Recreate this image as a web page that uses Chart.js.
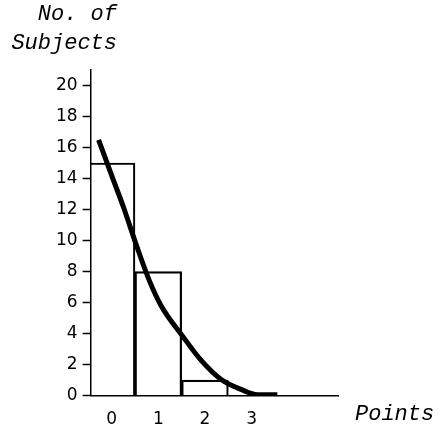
<!DOCTYPE html>
<html>
<head>
<meta charset="utf-8">
<script src="https://cdn.jsdelivr.net/npm/chart.js@4"></script>
<style>
  html, body { margin: 0; padding: 0; background: #fff; }
  #wrap { width: 441px; height: 431px; }
</style>
</head>
<body>
<div id="wrap"><canvas id="grafica"></canvas></div>
<script>
// Histograma: puntos obtenidos y numero de sujetos
const puntos = [0, 1, 2, 3];
const sujetos = [15, 8, 1, 0];
// Curva ajustada
const curvaX = [-0.28, 0, 0.26, 0.53, 0.81, 1.06, 1.53, 1.91, 2.34, 2.77, 3.13, 3.55];
const curvaY = [16.5, 14.2, 12.1, 9.7, 7.4, 5.8, 3.8, 2.3, 1.05, 0.4, 0.05, 0.05];
const ticksY = [0, 2, 4, 6, 8, 10, 12, 14, 16, 18, 20];
const tituloY = ["No. of", "Subjects"];
const tituloX = "Points";

const fuenteTicks = { family: "DejaVu Sans", size: 17 };
const fuenteTitulo = "italic 22px 'Liberation Mono'";

// Dibuja los titulos de los ejes como en la maquina de escribir
const titulos = {
  id: 'titulos',
  afterDraw(chart) {
    const ctx = chart.ctx;
    const area = chart.chartArea;
    ctx.save();
    ctx.fillStyle = '#000';
    ctx.font = fuenteTitulo;
    ctx.textAlign = 'right';
    ctx.textBaseline = 'middle';
    ctx.fillText(tituloY[0], 117, 14);
    ctx.fillText(tituloY[1], 117, 43);
    ctx.textAlign = 'left';
    ctx.fillText(tituloX, area.right + 17, area.bottom + 19);
    ctx.restore();
  }
};

new Chart(document.querySelector("#grafica"), {
  data: {
    datasets: [
      {
        type: 'line',
        data: curvaX.map((x, i) => ({ x: x, y: curvaY[i] })),
        borderColor: '#000',
        borderWidth: 5,
        pointRadius: 0,
        cubicInterpolationMode: 'monotone',
        order: 0,
      },
      {
        type: 'bar',
        data: puntos.map((p, i) => ({ x: p, y: sujetos[i] })),
        backgroundColor: 'rgba(0,0,0,0)',
        borderColor: '#000',
        borderWidth: 1.5,
        barPercentage: 1,
        categoryPercentage: 1,
        order: 1,
      }
    ]
  },
  options: {
    responsive: true,
    maintainAspectRatio: false,
    animation: false,
    layout: { padding: { top: 70, right: 103, left: 51, bottom: -13 } },
    plugins: { legend: { display: false }, tooltip: { enabled: false } },
    scales: {
      x: {
        type: 'linear',
        offset: false,
        min: -0.45,
        max: 4.85,
        afterBuildTicks: (axis) => { axis.ticks = puntos.map(v => ({ value: v })); },
        grid: { offset: false, drawOnChartArea: false, drawTicks: false },
        border: { color: '#000', width: 1.5 },
        ticks: { color: '#000', font: fuenteTicks, padding: 14, maxRotation: 0 },
      },
      y: {
        min: 0,
        max: 21,
        afterBuildTicks: (axis) => { axis.ticks = ticksY.map(v => ({ value: v })); },
        grid: { drawOnChartArea: false, drawTicks: true, tickLength: 8, color: '#000', tickWidth: 1.5 },
        border: { color: '#000', width: 1.5 },
        ticks: { color: '#000', font: fuenteTicks, padding: 5 },
      }
    }
  },
  plugins: [titulos]
});
</script>
</body>
</html>
